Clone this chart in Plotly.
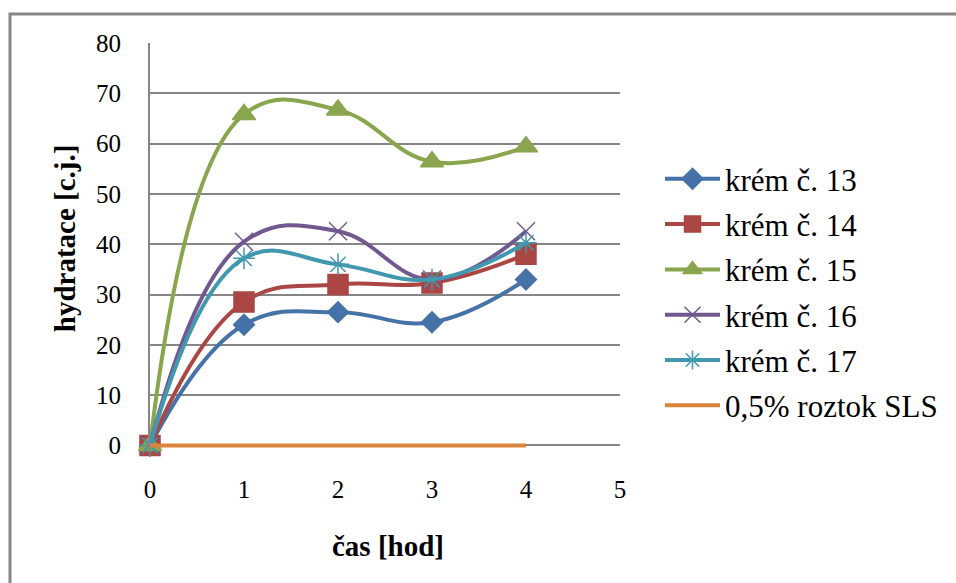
import plotly.graph_objects as go

# Measurement times [hod]
cas = [0, 1, 2, 3, 4]

# Hydration readings [c.j.] for each cream and the SLS control
krem_13 = [0, 24.0, 26.5, 24.5, 33.0]
krem_14 = [0, 28.5, 32.0, 32.3, 38.0]
krem_15 = [0, 65.8, 66.7, 56.4, 59.4]
krem_16 = [0, 40.5, 42.6, 33.0, 42.6]
krem_17 = [0, 37.2, 36.0, 33.0, 40.3]
sls_05 = [0, 0, 0, 0, 0]

names = ["krém č. 13", "krém č. 14", "krém č. 15", "krém č. 16", "krém č. 17", "0,5% roztok SLS"]
series = [krem_13, krem_14, krem_15, krem_16, krem_17, sls_05]
colors = ["#4572A7", "#AA4643", "#89A54E", "#71588F", "#4198AF", "#DB843D"]
symbols = ["diamond", "square", "triangle-up", "x-thin-open", "asterisk-open", None]
sizes = [16, 20, 20, 18, 18, 0]

GRID = "#868686"
FONT = "Liberation Serif"

fig = go.Figure()
for i, (name, ys, col, sym, sz) in enumerate(zip(names, series, colors, symbols, sizes)):
    if sym is None:
        fig.add_trace(go.Scatter(
            x=cas, y=ys, name=name, mode="lines", cliponaxis=False,
            legendgroup=f"g{i}",
            line=dict(color=col, width=4),
        ))
    else:
        fig.add_trace(go.Scatter(
            x=cas, y=ys, name=name, mode="lines+markers", cliponaxis=False,
            legendgroup=f"g{i}",
            line=dict(color=col, width=4, shape="spline", smoothing=1.2),
            marker=dict(symbol=sym, size=sz, color=col,
                        line=dict(color=col, width=1.5)),
        ))

# y range reaches a little below zero so the zero-level line is not cut in half
Y_LO, Y_HI = -0.5, 80
PLOT_TOP, PLOT_ZERO = 43, 445
px_per_unit = (PLOT_ZERO - PLOT_TOP) / Y_HI
plot_bottom = PLOT_ZERO + (-Y_LO) * px_per_unit
plot_h = plot_bottom - PLOT_TOP
b_margin = 583 - plot_bottom


def py(pix):
    """pixel row -> paper y"""
    return (plot_bottom - pix) / plot_h


def px(pix):
    """pixel column -> paper x"""
    return (pix - 150) / 470


# outer frame (left and top edges)
fig.add_shape(type="path", xref="paper", yref="paper",
              path=f"M {px(10)},{py(600)} L {px(10)},{py(14)} L {px(1000)},{py(14)}",
              line=dict(color=GRID, width=3))

fig.add_annotation(text="<b>čas [hod]</b>", xref="paper", yref="paper",
                   x=px(388), y=py(545), showarrow=False, yanchor="middle",
                   font=dict(family=FONT, size=29, color="black"))
fig.add_annotation(text="<b>hydratace [c.j.]</b>", xref="paper", yref="paper",
                   x=px(65), y=py(238), textangle=-90, showarrow=False,
                   xanchor="center", yanchor="middle",
                   font=dict(family=FONT, size=29, color="black"))

fig.update_layout(
    width=956, height=583,
    margin=dict(l=150, r=336, t=PLOT_TOP, b=b_margin),
    paper_bgcolor="white", plot_bgcolor="white",
    font=dict(family=FONT, color="black", size=25),
    showlegend=True,
    legend=dict(x=px(660), y=py(152), xanchor="left", yanchor="top",
                font=dict(family=FONT, size=31, color="black"),
                itemwidth=55, traceorder="grouped", tracegroupgap=2,
                bgcolor="rgba(0,0,0,0)"),
    xaxis=dict(range=[0, 5], dtick=1, showgrid=False, zeroline=False,
               showline=False, ticks="", ticklabelstandoff=24,
               tickfont=dict(family=FONT, size=25, color="black")),
    yaxis=dict(range=[Y_LO, Y_HI], tick0=0, dtick=10, showgrid=True, gridcolor=GRID,
               gridwidth=2, zeroline=False, showline=True, linecolor=GRID,
               linewidth=2, ticks="", ticklabelstandoff=22,
               tickfont=dict(family=FONT, size=25, color="black")),
)

fig.write_html("out.html")
